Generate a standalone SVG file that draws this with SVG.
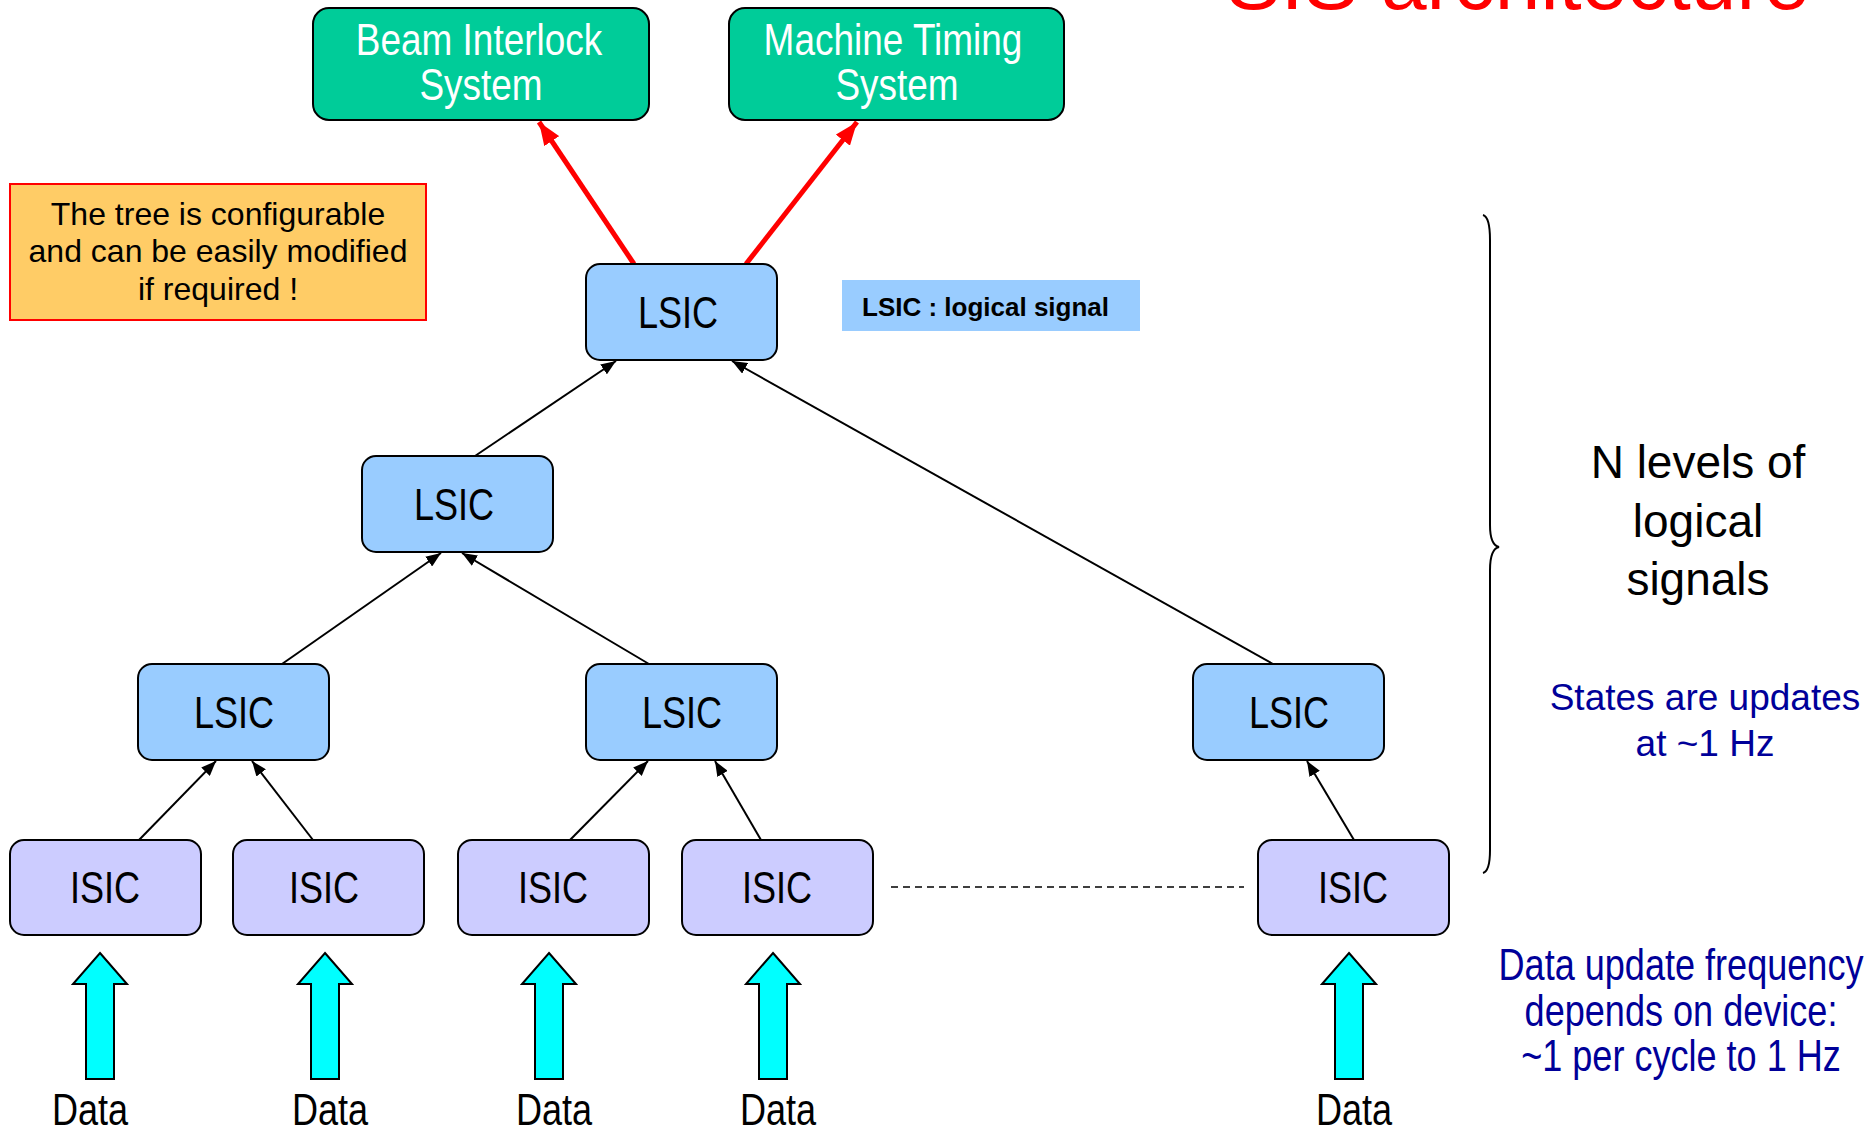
<svg xmlns="http://www.w3.org/2000/svg" width="1875" height="1130" viewBox="0 0 1875 1130">
<style>
.ext rect{fill:#00CC99;stroke:#000;stroke-width:2}
.ext text{fill:#fff}
.lsic rect{fill:#99CCFF;stroke:#000;stroke-width:2}
.isic rect{fill:#CCCCFF;stroke:#000;stroke-width:2}
text{font-family:"Liberation Sans",Arial,sans-serif}
.cond{font-size:44px;text-anchor:middle;fill:#000}
.edge{stroke:#000;stroke-width:2;fill:none;marker-end:url(#ah)}
.red{stroke:#FF0000;stroke-width:5;fill:none;marker-end:url(#ahr)}
.data path{fill:#00FFFF;stroke:#000;stroke-width:2}
.blue{fill:#000099;text-anchor:middle}
</style>
<defs>
<marker id="ah" markerUnits="userSpaceOnUse" markerWidth="16" markerHeight="12" refX="15" refY="6" orient="auto">
<path d="M0,0 L15,6 L0,12 z" fill="#000"/>
</marker>
<marker id="ahr" markerUnits="userSpaceOnUse" markerWidth="24" markerHeight="18" refX="23" refY="9" orient="auto">
<path d="M0,0 L23,9 L0,18 z" fill="#FF0000"/>
</marker>
</defs>

<text x="1226" y="9" font-size="82" fill="#FF0000">SIS architecture</text>

<g id="connectors">
<line class="red" x1="634" y1="264" x2="539" y2="122"/>
<line class="red" x1="746" y1="264" x2="857" y2="122"/>
<line class="edge" x1="475" y1="456" x2="616" y2="361"/>
<line class="edge" x1="1273" y1="664" x2="732" y2="361"/>
<line class="edge" x1="282" y1="664" x2="441" y2="553"/>
<line class="edge" x1="649" y1="664" x2="462" y2="553"/>
<line class="edge" x1="139" y1="840" x2="216" y2="761"/>
<line class="edge" x1="313" y1="840" x2="252" y2="761"/>
<line class="edge" x1="570" y1="840" x2="648" y2="761"/>
<line class="edge" x1="761" y1="840" x2="715" y2="761"/>
<line class="edge" x1="1354" y1="840" x2="1307" y2="761"/>
<line x1="891" y1="887" x2="1244" y2="887" stroke="#000" stroke-width="1.5" stroke-dasharray="7,5"/>
</g>

<g id="bis" class="ext">
<rect x="313" y="8" width="336" height="112" rx="16"/>
<text class="cond" style="fill:#fff" transform="translate(479,55) scale(0.84,1)">Beam Interlock</text>
<text class="cond" style="fill:#fff" transform="translate(481,100) scale(0.84,1)">System</text>
</g>
<g id="mts" class="ext">
<rect x="729" y="8" width="335" height="112" rx="16"/>
<text class="cond" style="fill:#fff" transform="translate(893,55) scale(0.84,1)">Machine Timing</text>
<text class="cond" style="fill:#fff" transform="translate(897,100) scale(0.84,1)">System</text>
</g>

<g id="note">
<rect x="10" y="184" width="416" height="136" fill="#FFCC66" stroke="#FF0000" stroke-width="2"/>
<text x="218" y="225" font-size="32" text-anchor="middle">The tree is configurable</text>
<text x="218" y="262" font-size="32" text-anchor="middle">and can be easily modified</text>
<text x="218" y="300" font-size="32" text-anchor="middle">if required !</text>
</g>

<g id="legend">
<rect x="842" y="280" width="298" height="51" fill="#99CCFF"/>
<text x="862" y="316" font-size="26" font-weight="bold">LSIC : logical signal</text>
</g>

<g id="lsic-top" class="lsic">
<rect x="586" y="264" width="191" height="96" rx="14"/>
<text class="cond" transform="translate(678,328) scale(0.82,1)">LSIC</text>
</g>
<g id="lsic-mid" class="lsic">
<rect x="362" y="456" width="191" height="96" rx="14"/>
<text class="cond" transform="translate(454,520) scale(0.82,1)">LSIC</text>
</g>
<g id="lsic-l" class="lsic">
<rect x="138" y="664" width="191" height="96" rx="14"/>
<text class="cond" transform="translate(234,728) scale(0.82,1)">LSIC</text>
</g>
<g id="lsic-c" class="lsic">
<rect x="586" y="664" width="191" height="96" rx="14"/>
<text class="cond" transform="translate(682,728) scale(0.82,1)">LSIC</text>
</g>
<g id="lsic-r" class="lsic">
<rect x="1193" y="664" width="191" height="96" rx="14"/>
<text class="cond" transform="translate(1289,728) scale(0.82,1)">LSIC</text>
</g>

<g id="isic1" class="isic">
<rect x="10" y="840" width="191" height="95" rx="14"/>
<text class="cond" transform="translate(105,903) scale(0.82,1)">ISIC</text>
</g>
<g id="isic2" class="isic">
<rect x="233" y="840" width="191" height="95" rx="14"/>
<text class="cond" transform="translate(324,903) scale(0.82,1)">ISIC</text>
</g>
<g id="isic3" class="isic">
<rect x="458" y="840" width="191" height="95" rx="14"/>
<text class="cond" transform="translate(553,903) scale(0.82,1)">ISIC</text>
</g>
<g id="isic4" class="isic">
<rect x="682" y="840" width="191" height="95" rx="14"/>
<text class="cond" transform="translate(777,903) scale(0.82,1)">ISIC</text>
</g>
<g id="isic5" class="isic">
<rect x="1258" y="840" width="191" height="95" rx="14"/>
<text class="cond" transform="translate(1353,903) scale(0.82,1)">ISIC</text>
</g>

<g id="data-inputs" class="data">
<path d="M100,953 L127,984 L114,984 L114,1079 L86,1079 L86,984 L73,984 z"/>
<path d="M325,953 L352,984 L339,984 L339,1079 L311,1079 L311,984 L298,984 z"/>
<path d="M549,953 L576,984 L563,984 L563,1079 L535,1079 L535,984 L522,984 z"/>
<path d="M773,953 L800,984 L787,984 L787,1079 L759,1079 L759,984 L746,984 z"/>
<path d="M1349,953 L1376,984 L1363,984 L1363,1079 L1335,1079 L1335,984 L1322,984 z"/>
<text class="cond" transform="translate(90,1125) scale(0.82,1)">Data</text>
<text class="cond" transform="translate(330,1125) scale(0.82,1)">Data</text>
<text class="cond" transform="translate(554,1125) scale(0.82,1)">Data</text>
<text class="cond" transform="translate(778,1125) scale(0.82,1)">Data</text>
<text class="cond" transform="translate(1354,1125) scale(0.82,1)">Data</text>
</g>

<g id="brace">
<path d="M1483,215 Q1490,217 1490,240 L1490,525 Q1490,545 1499,547 Q1490,549 1490,570 L1490,850 Q1490,871 1483,873" fill="none" stroke="#000" stroke-width="2"/>
</g>

<g id="levels-label">
<text x="1698" y="478" font-size="46" text-anchor="middle">N levels of</text>
<text x="1698" y="537" font-size="46" text-anchor="middle">logical</text>
<text x="1698" y="595" font-size="46" text-anchor="middle">signals</text>
</g>

<g id="states-label">
<text class="blue" x="1705" y="710" font-size="37">States are updates</text>
<text class="blue" x="1705" y="756" font-size="37">at ~1 Hz</text>
</g>

<g id="freq-label">
<text class="cond" style="fill:#000099" transform="translate(1681,980) scale(0.82,1)">Data update frequency</text>
<text class="cond" style="fill:#000099" transform="translate(1681,1026) scale(0.82,1)">depends on device:</text>
<text class="cond" style="fill:#000099" transform="translate(1681,1071) scale(0.82,1)">~1 per cycle to 1 Hz</text>
</g>
</svg>
